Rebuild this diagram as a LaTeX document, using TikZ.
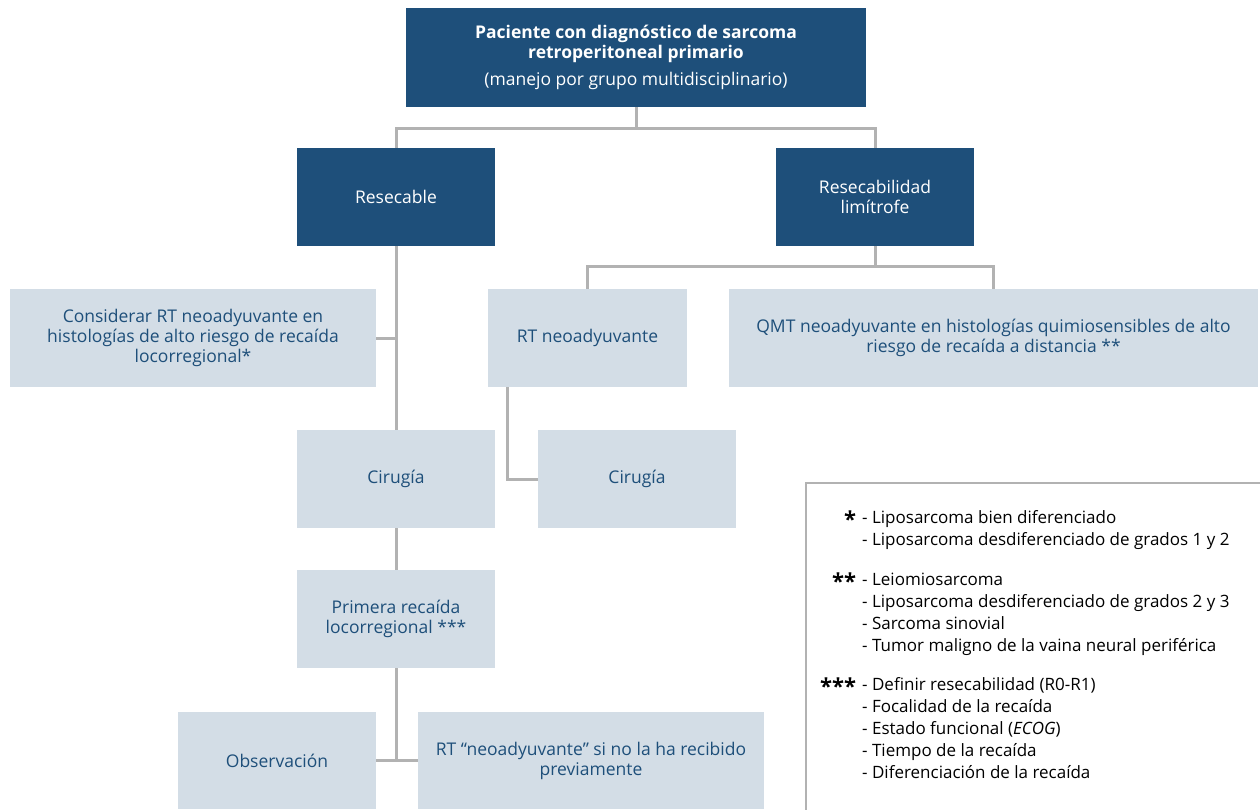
\documentclass[tikz,border=0pt]{standalone}
\usepackage{fontspec}
\setmainfont{Open Sans}
\usepackage{array}
\usetikzlibrary{positioning}

\definecolor{navy}{RGB}{30,79,122}
\definecolor{paleblue}{RGB}{211,221,230}
\definecolor{linegray}{RGB}{178,178,178}

\newcommand{\notestar}[1]{\raisebox{-4pt}{\fontsize{22}{22}\selectfont\bfseries #1}}

\tikzset{
  box/.style={minimum height=98, minimum width=198, inner sep=0, align=center,
    font=\fontsize{17.5}{20}\selectfont},
  darkbox/.style={box, fill=navy, text=white},
  lightbox/.style={box, fill=paleblue, text=navy},
  conn/.style={draw=linegray, line width=3pt},
}

\begin{document}
\begin{tikzpicture}[x=1pt,y=-1pt]
		\useasboundingbox (0,0) rectangle (1260,809);
		% boxes
		\node[darkbox, minimum width=460, minimum height=99] (top) at (636,57.5)
			{\textbf{Paciente con diagnóstico de sarcoma}\\\textbf{retroperitoneal primario}\\[7pt](manejo por grupo multidisciplinario)};
		\node[darkbox] (resec) at (396,197) {Resecable};
		\node[darkbox] (limit) at (875,197) {Resecabilidad\\limítrofe};
		\node[lightbox, minimum width=366] (consid) at (193,338)
			{Considerar RT neoadyuvante en\\histologías de alto riesgo de recaída\\locorregional*};
		\node[lightbox, minimum width=199] (rtneo) at (587.5,338) {RT neoadyuvante};
		\node[lightbox, minimum width=529] (qmt) at (993.5,338)
			{QMT neoadyuvante en histologías quimiosensibles de alto\\riesgo de recaída a distancia **};
		\node[lightbox] (cir1) at (396,479) {Cirugía};
		\node[lightbox] (cir2) at (637,479) {Cirugía};
		\node[lightbox] (recaida) at (396,619) {Primera recaída\\locorregional ***};
		\node[lightbox, minimum height=97] (obs) at (277,760.5) {Observación};
		\node[lightbox, minimum width=346, minimum height=97] (rtre) at (591,760.5)
			{RT “neoadyuvante” si no la ha recibido\\previamente};
		% connectors
		\draw[conn] (top.south) -- ++(0,21) -| (resec.north);
		\draw[conn] (top.south) -- ++(0,21) -| (limit.north);
		\draw[conn] (resec.south) -- (cir1.north);
		\draw[conn] (consid.east) -- (resec.south |- consid.east);
		\draw[conn] (limit.south) -- ++(0,20) -| (rtneo.north);
		\draw[conn] (limit.south) -- ++(0,20) -| (qmt.north);
		\draw[conn] ([xshift=20]rtneo.south west) |- (cir2.west);
		\draw[conn] (cir1.south) -- (recaida.north);
		\draw[conn] (recaida.south) -- (recaida.south |- obs.east);
		\draw[conn] (obs.east) -- (rtre.west);
		% notes
		\draw[linegray, line width=1.5pt] (1262,483) -| (806,811);
		\node[anchor=north west, inner sep=0, font=\fontsize{17}{22}\selectfont] (notes) at (816,508) {%
			\begin{tabular}{@{}>{\raggedleft\arraybackslash}p{40pt}@{\hspace{6pt}}l@{}}
			\notestar{*} & - Liposarcoma bien diferenciado\\
			& - Liposarcoma desdiferenciado de grados 1 y 2\\[18pt]
			\notestar{**} & - Leiomiosarcoma\\
			& - Liposarcoma desdiferenciado de grados 2 y 3\\
			& - Sarcoma sinovial\\
			& - Tumor maligno de la vaina neural periférica\\[17pt]
			\notestar{***} & - Definir resecabilidad (R0-R1)\\
			& - Focalidad de la recaída\\
			& - Estado funcional (\textit{ECOG})\\
			& - Tiempo de la recaída\\
			& - Diferenciación de la recaída
			\end{tabular}};
\end{tikzpicture}
\end{document}
